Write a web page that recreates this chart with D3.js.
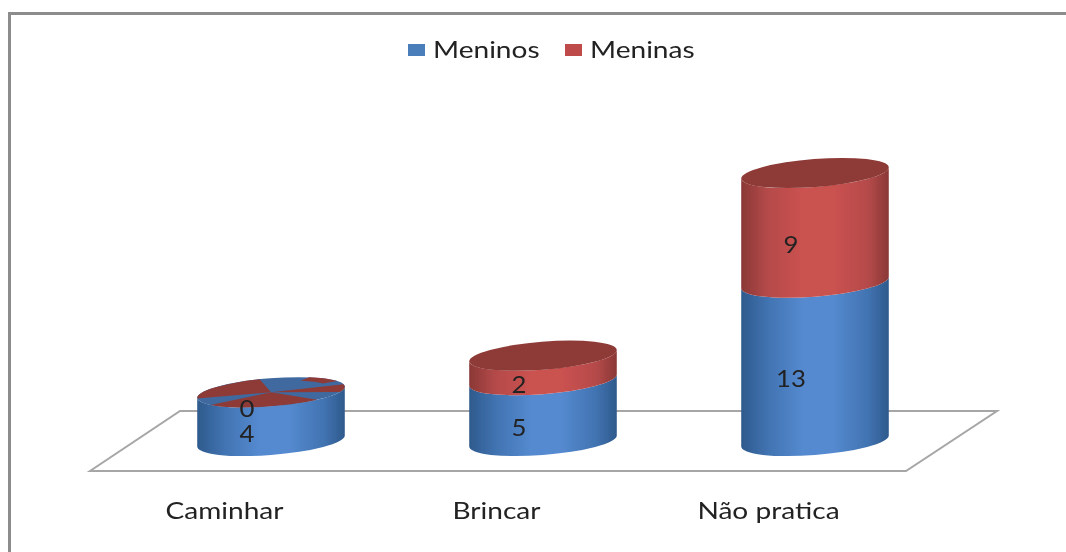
<!DOCTYPE html>
<html lang="pt">
<head>
<meta charset="UTF-8">
<title>Meninos e Meninas</title>
<script src="https://cdn.jsdelivr.net/npm/d3@7"></script>
<style>
    html, body { margin: 0; padding: 0; background: #fff; }
    svg { display: block; }
    text { font-family: Lato, "Open Sans", sans-serif; fill: #222; }
    .axis path, .axis line { display: none; }
</style>
</head>
<body>
<div id="chart"></div>
<script>
const categories = ["Caminhar", "Brincar", "Não pratica"];
const meninos = [4, 5, 13];
const meninas = [0, 2, 9];
const seriesNames = ["Meninos", "Meninas"];

const width = 1066, height = 552;
const rx = 74, ry = 14, tilt = -4.5 * Math.PI / 180;

const svg = d3.select("#chart").append("svg")
    .attr("width", width)
    .attr("height", height);

const defs = svg.append("defs");
defs.append("filter").attr("id", "soft")
    .append("feGaussianBlur").attr("stdDeviation", 0.7);

function sideGradient(id, edge, mid, centre) {
    const g = defs.append("linearGradient").attr("id", id);
    [[0, edge], [0.18, mid], [0.42, centre], [0.62, centre], [0.86, mid], [1, edge]].forEach(s => {
        g.append("stop").attr("offset", s[0]).attr("stop-color", s[1]);
    });
}
sideGradient("sideBlue", "#2e5a8c", "#4173b1", "#558ad0");
sideGradient("sideRed", "#8a3836", "#b54a4a", "#cb5250");

const colors = { Meninos: "#4a7ebb", Meninas: "#be4b48" };
const topColors = { Meninos: "#3f6a9f", Meninas: "#8e3b38" };

const x = d3.scalePoint().domain(categories).range([271, 815]);
const y = d3.scaleLinear().domain([0, 22]).range([441, 173]);

const root = svg.append("g").attr("filter", "url(#soft)");

// the source picture is stretched sideways, so the text is too
function stretch(sel, k) {
    sel.each(function () {
        const len = this.getComputedTextLength();
        d3.select(this)
            .attr("textLength", len * k)
            .attr("lengthAdjust", "spacingAndGlyphs");
    });
}

// frame, only left and top are visible in the picture
root.append("path")
    .attr("d", `M9.5,${height} V13.5 H${width}`)
    .attr("fill", "none")
    .attr("stroke", "#8c8c8c")
    .attr("stroke-width", 3);

// floor
root.append("path")
    .attr("d", "M90,471 L180,411 H997 L906,471 Z")
    .attr("fill", "#fff")
    .attr("stroke", "#a6a6a6")
    .attr("stroke-width", 2);

// where the rotated ellipse has vertical tangents
const t0 = Math.atan(-(ry / rx) * Math.tan(tilt));
const ex = rx * Math.cos(t0) * Math.cos(tilt) - ry * Math.sin(t0) * Math.sin(tilt);
const ey = rx * Math.cos(t0) * Math.sin(tilt) + ry * Math.sin(t0) * Math.cos(tilt);
const deg = tilt * 180 / Math.PI;

function sidePath(cx, yBottom, yTop) {
    return `M${cx - ex},${yTop - ey}` +
        `A${rx},${ry} ${deg} 0 0 ${cx + ex},${yTop + ey}` +
        `L${cx + ex},${yBottom + ey}` +
        `A${rx},${ry} ${deg} 0 1 ${cx - ex},${yBottom - ey}Z`;
}

categories.forEach((c, i) => {
    const cx = x(c);
    const y0 = y(0), y1 = y(meninos[i]), y2 = y(meninos[i] + meninas[i]);

    root.append("path").attr("d", sidePath(cx, y0, y1)).attr("fill", "url(#sideBlue)");
    if (meninas[i] > 0) {
        root.append("path").attr("d", sidePath(cx, y1, y2)).attr("fill", "url(#sideRed)");
    }

    const top = root.append("g")
        .attr("transform", `translate(${cx},${y2}) rotate(${deg})`);
    top.append("ellipse")
        .attr("rx", rx).attr("ry", ry)
        .attr("fill", meninas[i] > 0 ? topColors.Meninas : topColors.Meninos);

    // zero height red segment fights with the blue top, as in the picture
    if (meninas[i] === 0) {
        const arc = d3.arc();
        const toRad = a => a * Math.PI / 180;
        const pieces = [[268, 352, 0], [142, 236, 0], [80, 112, 0], [32, 65, 0.78]];
        pieces.forEach(p => {
            top.append("path")
                .attr("transform", `scale(${rx},${ry})`)
                .attr("d", arc({ innerRadius: p[2], outerRadius: 1, startAngle: toRad(p[0]), endAngle: toRad(p[1]) }))
                .attr("fill", topColors.Meninas);
        });
    }

    // value labels
    [[meninos[i], (y0 + y1) / 2], [meninas[i], (y1 + y2) / 2]].forEach(d => {
        root.append("text")
            .attr("x", cx - 24)
            .attr("y", d[1] + 17)
            .attr("dy", "0.35em")
            .attr("text-anchor", "middle")
            .attr("font-size", 23)
            .text(d[0])
            .call(stretch, 1.12);
    });
});

// category axis
const axisScale = x.copy().range([224, 768]);
const axis = root.append("g")
    .attr("class", "axis")
    .attr("transform", "translate(0,495)")
    .call(d3.axisBottom(axisScale).tickSize(0).tickPadding(8));
axis.selectAll("text")
    .attr("font-size", 23)
    .attr("font-family", "Lato")
    .attr("fill", "#222")
    .call(stretch, 1.22);

// legend
const legendX = [408, 565];
seriesNames.forEach((name, i) => {
    root.append("rect")
        .attr("x", legendX[i]).attr("y", 44)
        .attr("width", 17).attr("height", 12)
        .attr("fill", colors[name]);
    root.append("text")
        .attr("x", legendX[i] + 25)
        .attr("y", 58)
        .attr("font-size", 24)
        .text(name)
        .call(stretch, 1.17);
});
</script>
</body>
</html>
